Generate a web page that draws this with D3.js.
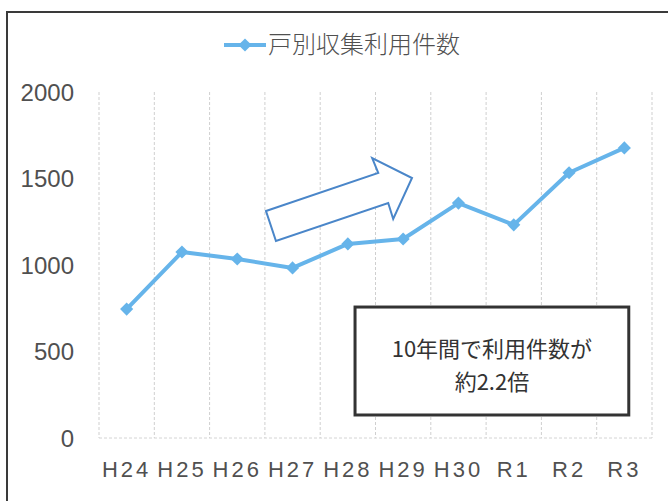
<!DOCTYPE html>
<html>
<head>
<meta charset="utf-8">
<script src="https://cdn.jsdelivr.net/npm/d3@7/dist/d3.min.js"></script>
<style>
  html, body { margin: 0; padding: 0; background: #fff; }
  svg { display: block; }
</style>
</head>
<body>
<svg id="chart" width="668" height="501"></svg>
<script>
// ---- data ----
const categories = ["H24", "H25", "H26", "H27", "H28", "H29", "H30", "R1", "R2", "R3"];
const values = [745, 1075, 1035, 983, 1122, 1150, 1358, 1232, 1533, 1677];
const yTicks = [0, 500, 1000, 1500, 2000];
const seriesName = "戸別収集利用件数";
const noteLines = ["10年間で利用件数が", "約2.2倍"];
// arrow outline in (category index, value) units
const arrowPts = [[3.02, 1312], [5.05, 1532], [4.94, 1618], [5.66, 1503], [5.32, 1266], [5.23, 1358], [3.20, 1139]];
// annotation box in (category index, value) units
const noteBox = { i0: 4.63, i1: 9.58, v0: 757, v1: 133 };

const svg = d3.select("#chart");
const W = 668, H = 501;
const lineColor = "#66B4EA";
const textColor = "#505050";

svg.append("rect").attr("width", W).attr("height", H).attr("fill", "#fff");
// outer frame
svg.append("rect").attr("x", 7).attr("y", 12).attr("width", 700).attr("height", 600)
  .attr("fill", "none").attr("stroke", "#3a3a3a").attr("stroke-width", 2);

const x = d3.scaleBand().domain(categories).range([99, 652]).padding(0);
const xi = d3.scaleLinear().domain([0, categories.length]).range(x.range());
const y = d3.scaleLinear().domain([0, 2000]).range([438, 92]);

// vertical gridlines (category boundaries)
const grid = svg.append("g");
d3.range(categories.length + 1).forEach(i => {
  grid.append("line")
    .attr("x1", xi(i)).attr("x2", xi(i))
    .attr("y1", y(2000)).attr("y2", y(0))
    .attr("stroke", "#cfcfcf").attr("stroke-width", 1)
    .attr("stroke-dasharray", "3,2");
});
// baseline
grid.append("line").attr("x1", xi(0)).attr("x2", xi(categories.length))
  .attr("y1", y(0)).attr("y2", y(0))
  .attr("stroke", "#d4d4d4").attr("stroke-width", 1).attr("stroke-dasharray", "3,2");

// y axis labels
const yAxis = d3.axisLeft(y).tickValues(yTicks).tickSize(0).tickPadding(0).tickFormat(d3.format("d"));
const yg = svg.append("g").attr("transform", "translate(74,0)").call(yAxis);
yg.select(".domain").remove();
yg.selectAll("text").attr("font-family", "Liberation Sans, Arial, sans-serif")
  .attr("font-size", 24).attr("fill", textColor).attr("dy", "0.34em");

// x axis labels
const xAxis = d3.axisBottom(x).tickSize(0).tickPadding(0);
const xg = svg.append("g").attr("transform", "translate(0,461)").call(xAxis);
xg.select(".domain").remove();
xg.selectAll("text").attr("font-family", "Liberation Sans, Arial, sans-serif")
  .attr("font-size", 22).attr("fill", textColor).attr("letter-spacing", "3px")
  .attr("dy", "0.71em");

// arrow annotation
const arrowLine = d3.line().x(d => xi(d[0])).y(d => y(d[1]));
svg.append("path").attr("d", arrowLine(arrowPts) + "Z")
  .attr("fill", "#fff").attr("stroke", "#4A86C9").attr("stroke-width", 2)
  .attr("stroke-linejoin", "miter");

// data line
const cx = d => x(d) + x.bandwidth() / 2;
const line = d3.line().x((d, i) => cx(categories[i])).y(d => y(d));
svg.append("path").datum(values).attr("d", line)
  .attr("fill", "none").attr("stroke", lineColor).attr("stroke-width", 4)
  .attr("stroke-linejoin", "round");

const diamond = d3.symbol().type(d3.symbolDiamond2).size(110);
svg.append("g").selectAll("path").data(values).join("path")
  .attr("d", diamond)
  .attr("transform", (d, i) => `translate(${cx(categories[i])},${y(d)})`)
  .attr("fill", lineColor);

// note box
const bx0 = xi(noteBox.i0), bx1 = xi(noteBox.i1), by0 = y(noteBox.v0), by1 = y(noteBox.v1);
svg.append("rect").attr("x", bx0).attr("y", by0).attr("width", bx1 - bx0).attr("height", by1 - by0)
  .attr("fill", "#fff").attr("stroke", "#333").attr("stroke-width", 3);
noteLines.forEach((t, i) => {
  svg.append("text").attr("text-anchor", "middle")
    .attr("font-family", "Noto Sans CJK JP, sans-serif").attr("font-size", 22).attr("fill", "#333")
    .attr("x", (bx0 + bx1) / 2).attr("y", by0 + 42 + i * 33)
    .attr("dy", "0.35em").text(t);
});

// legend
const lg = svg.append("g");
lg.append("line").attr("x1", 224).attr("x2", 266).attr("y1", 45).attr("y2", 45)
  .attr("stroke", lineColor).attr("stroke-width", 4);
lg.append("path").attr("d", diamond).attr("transform", "translate(245,45)").attr("fill", lineColor);
lg.append("text").attr("x", 268).attr("y", 45).attr("dy", "0.35em")
  .attr("font-family", "Noto Sans CJK JP, sans-serif").attr("font-size", 24)
  .attr("font-weight", 300).attr("fill", textColor).text(seriesName);
</script>
</body>
</html>
